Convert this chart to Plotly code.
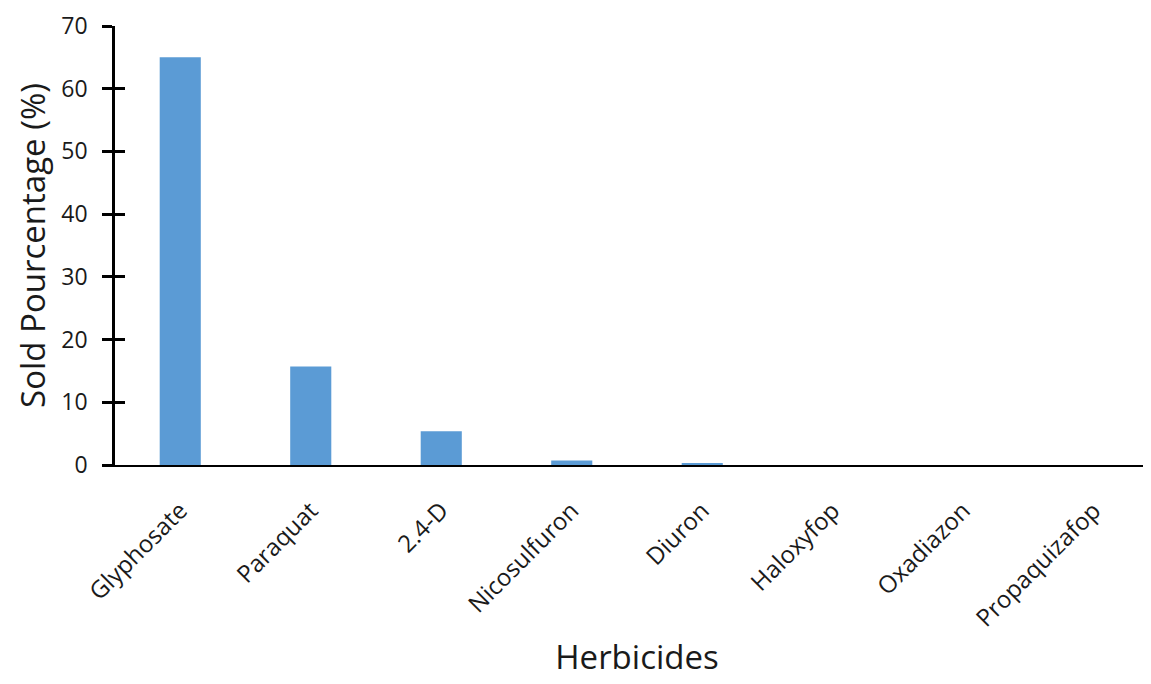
import plotly.graph_objects as go

herbicides = ["Glyphosate", "Paraquat", "2.4-D", "Nicosulfuron", "Diuron",
              "Haloxyfop", "Oxadiazon", "Propaquizafop"]
sold_pct = [65.0, 15.7, 5.4, 0.7, 0.3, 0.0, 0.0, 0.0]
y_ticks = [0, 10, 20, 30, 40, 50, 60, 70]

font_family = "Open Sans, Noto Sans, Liberation Sans, sans-serif"
txt = "#1a1a1a"

fig = go.Figure()
fig.add_trace(go.Bar(x=herbicides, y=sold_pct, marker_color="#5B9BD5",
                     marker_line_width=0, showlegend=False))
# invisible trace for overlay axis (crossing ticks)
fig.add_trace(go.Scatter(x=herbicides, y=sold_pct, yaxis="y2", mode="markers",
                         marker_opacity=0, showlegend=False, hoverinfo="skip"))

fig.update_layout(
    width=1151, height=684,
    margin=dict(l=107, r=0, t=18, b=227),
    plot_bgcolor="white", paper_bgcolor="white",
    bargap=0.685,
    font=dict(family=font_family, color=txt),
    xaxis=dict(
        range=[-0.5, 7.5],
        showline=True, linecolor="black", linewidth=2,
        ticks="", tickangle=-45, tickfont=dict(size=24, color=txt),
        ticklabelstandoff=20,
        showgrid=False, zeroline=False,
        title=dict(text="Herbicides", font=dict(size=33, color=txt), standoff=14),
    ),
    yaxis=dict(
        range=[0, 70], tickvals=y_ticks,
        showline=True, linecolor="black", linewidth=2.5,
        ticks="outside", ticklen=10, tickwidth=2.5, tickcolor="black",
        tickfont=dict(size=23, color=txt), ticklabelstandoff=10,
        showgrid=False, zeroline=False,
        title=dict(text="Sold Pourcentage (%)", font=dict(size=33, color=txt), standoff=6),
    ),
    yaxis2=dict(
        range=[0, 70], tickvals=y_ticks, overlaying="y", side="left",
        showline=False, ticks="inside", ticklen=10, tickwidth=2.5, tickcolor="black",
        showticklabels=False, showgrid=False, zeroline=False,
    ),
)

fig.write_html("out.html")
